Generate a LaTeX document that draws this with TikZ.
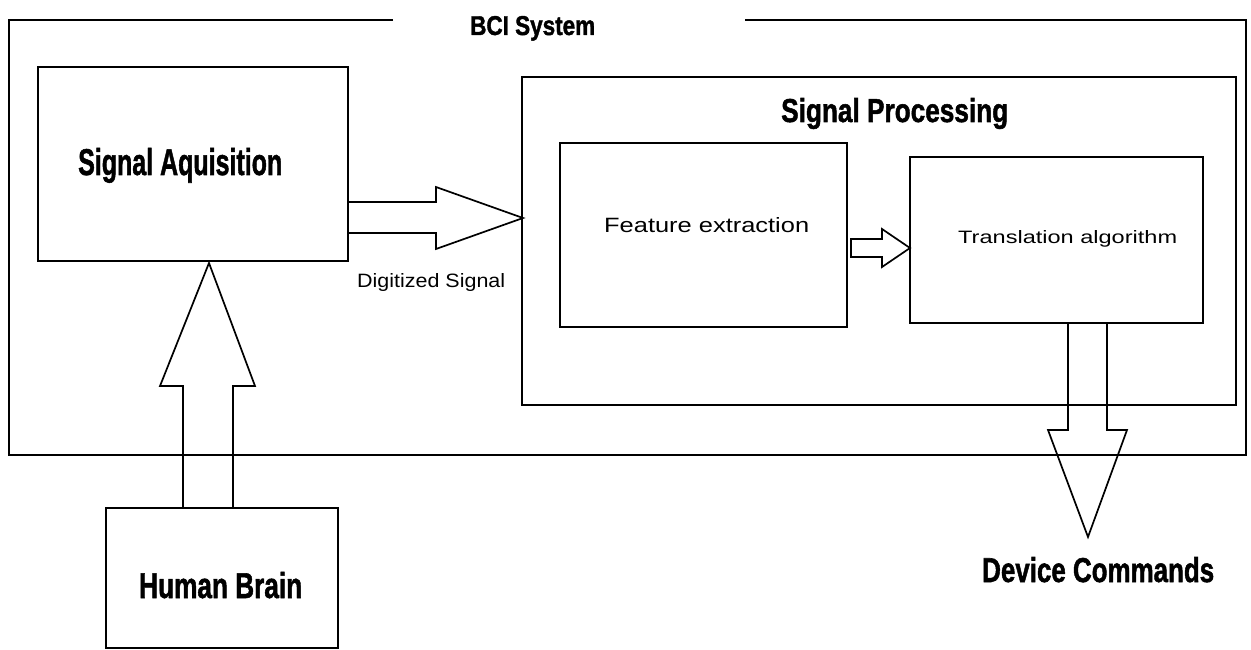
\documentclass[tikz,border=0pt]{standalone}
\usepackage{fontspec}
\setmainfont{Liberation Sans}
\newfontfamily\heavyfont{Liberation Sans}[UprightFont=*/B, UprightFeatures={FakeBold=1.6}]
\usepackage{graphicx}
\usetikzlibrary{fit}
\newcommand{\fittext}[3]{\resizebox{#1pt}{#2pt}{#3}}
\begin{document}
\begin{tikzpicture}[x=1pt,y=-1pt,
  box/.style={draw, line width=1.7pt, inner sep=0pt},
  lbl/.style={inner sep=0pt, anchor=base west},
  hollow/.style={draw, line width=1.7pt, line join=miter}]
\useasboundingbox (0,0) rectangle (1251,650);
% outer BCI system frame with gap for title
\coordinate (gapL) at (393,20);
\coordinate (gapR) at (745,20);
\draw[line width=1.7pt] (gapL) -- (9,20) -- (9,455) -- (1246,455) -- (1246,20) -- (gapR);
\node[lbl] (tbci) at (470,35) {\fittext{125}{19}{\heavyfont BCI System}};
% boxes
\node[box, fit={(38,67) (348,261)}] (sa) {};
\node[box, fit={(522,77) (1236,405)}] (sp) {};
\node[box, fit={(560,143) (847,327)}] (fe) {};
\node[box, fit={(910,157) (1203,323)}] (ta) {};
\node[box, fit={(106,508) (338,648)}] (hb) {};
% labels
\node[lbl] (tsa) at (78,175) {\fittext{204}{27}{\heavyfont Signal Aquisition}};
\node[lbl] (tsp) at (781,122) {\fittext{227}{24}{\heavyfont Signal Processing}};
\node[lbl] (tfe) at (604,233) {\fittext{205}{15}{Feature extraction}};
\node[lbl] (tta) at (958,243) {\fittext{219}{13}{Translation algorithm}};
\node[lbl] (tds) at (357,287) {\fittext{148}{14}{Digitized Signal}};
\node[lbl] (thb) at (139,598) {\fittext{163}{26}{\heavyfont Human Brain}};
\node[lbl] (tdc) at (982,582) {\fittext{232}{25}{\heavyfont Device Commands}};
% hollow arrows
\draw[hollow] (183,508) -- (183,386) -- (160,386) -- (209,263) -- (255,386) -- (233,386) -- (233,508) -- cycle;
\draw[hollow] (348,202) -- (436,202) -- (436,187) -- (523,218) -- (436,249) -- (436,233) -- (348,233);
\draw[hollow] (851,239) -- (882,239) -- (882,229) -- (910,248) -- (882,267) -- (882,257) -- (851,257) -- cycle;
\draw[hollow] (1068,323) -- (1068,430) -- (1048,430) -- (1088,537) -- (1127,430) -- (1107,430) -- (1107,323);
\end{tikzpicture}
\end{document}
